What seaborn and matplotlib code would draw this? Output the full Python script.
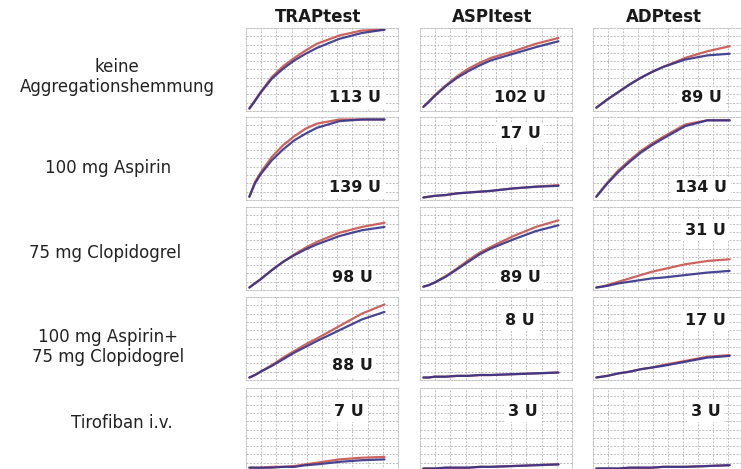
import numpy as np
import pandas as pd
import matplotlib
matplotlib.use("Agg")
import matplotlib.pyplot as plt
import seaborn as sns

# Multiplate aggregation curves: time (min) vs aggregation, two channels per test
TIME = [0, 0.25, 0.5, 1, 1.5, 2, 2.5, 3, 4, 5, 6]

TESTS = ["TRAPtest", "ASPItest", "ADPtest"]
CONDITIONS = [
    "keine\nAggregationshemmung",
    "100 mg Aspirin",
    "75 mg Clopidogrel",
    "100 mg Aspirin+\n75 mg Clopidogrel",
    "Tirofiban i.v.",
]

# area under the curve in U, [condition][test]
AUC_U = [
    [113, 102, 89],
    [139, 17, 134],
    [98, 89, 31],
    [88, 8, 17],
    [7, 3, 3],
]

# channel 1 (red) and channel 2 (blue) per condition and test
RED = [
    [[3, 13, 23, 41, 54, 64, 73, 81, 91, 97, 98],
     [5, 12, 19, 31, 42, 51, 58, 64, 72, 81, 88],
     [4, 9, 14, 23, 32, 40, 47, 53, 64, 72, 78]],
    [[4, 22, 33, 52, 66, 77, 86, 92, 97, 97, 97],
     [3, 4, 5, 6, 8, 9, 10, 11, 14, 16, 18],
     [4, 13, 21, 36, 48, 59, 68, 76, 91, 96, 96]],
    [[3, 8, 13, 24, 34, 43, 51, 58, 69, 76, 81],
     [4, 6, 9, 17, 26, 36, 45, 52, 65, 76, 84],
     [3, 4, 6, 10, 14, 18, 22, 25, 31, 35, 37]],
    [[3, 6, 10, 18, 27, 35, 43, 50, 65, 80, 91],
     [3, 3, 4, 4, 5, 5, 6, 6, 7, 8, 9],
     [3, 4, 5, 8, 10, 13, 15, 18, 23, 28, 30]],
    [[4, 4, 4, 5, 5, 6, 8, 10, 14, 16, 17],
     [3, 3, 3, 4, 4, 4, 5, 5, 6, 7, 8],
     [3, 3, 3, 3, 4, 4, 4, 5, 5, 6, 7]],
]
BLUE = [
    [[3, 12, 22, 39, 51, 61, 69, 76, 87, 94, 98],
     [5, 11, 18, 30, 40, 48, 55, 61, 69, 77, 84],
     [4, 9, 14, 23, 32, 40, 47, 53, 62, 67, 69]],
    [[4, 20, 31, 48, 61, 72, 80, 87, 95, 97, 97],
     [3, 4, 5, 6, 8, 9, 10, 11, 14, 16, 17],
     [4, 12, 20, 34, 46, 57, 66, 74, 89, 96, 96]],
    [[3, 8, 13, 24, 34, 42, 49, 55, 65, 72, 76],
     [4, 6, 9, 16, 25, 34, 43, 50, 61, 71, 78],
     [3, 4, 5, 8, 10, 12, 14, 15, 18, 21, 23]],
    [[3, 6, 10, 17, 25, 33, 40, 47, 60, 73, 82],
     [3, 3, 4, 4, 5, 5, 6, 6, 7, 8, 9],
     [3, 4, 5, 8, 10, 13, 15, 17, 22, 27, 29]],
    [[4, 4, 4, 4, 5, 5, 7, 8, 11, 13, 14],
     [3, 3, 3, 4, 4, 4, 5, 5, 6, 7, 8],
     [3, 3, 3, 3, 4, 4, 4, 5, 5, 6, 7]],
]

# label anchor inside each panel (axes fraction)
LABEL_POS = [
    [(0.72, 0.16), (0.66, 0.16), (0.72, 0.16)],
    [(0.72, 0.15), (0.66, 0.80), (0.72, 0.15)],
    [(0.70, 0.15), (0.66, 0.15), (0.75, 0.72)],
    [(0.70, 0.17), (0.66, 0.72), (0.75, 0.72)],
    [(0.68, 0.72), (0.68, 0.72), (0.75, 0.72)],
]

RED_C = "#c9524d"
BLUE_C = "#34338a"

sns.set_theme(style="white")
plt.rcParams["font.family"] = ["DejaVu Sans"]

W, H = 741, 469
fig = plt.figure(figsize=(W / 100, H / 100), dpi=100)
fig.patch.set_facecolor("white")

col_px = [(246, 152), (420, 152), (593, 150)]
row_top = [28, 117, 207, 297, 388]
row_h = 83

XLIM = (-0.15, 6.6)
YLIM = (0, 100)

for r in range(len(CONDITIONS)):
    for c in range(len(TESTS)):
        x0, w = col_px[c]
        ax = fig.add_axes([x0 / W, 1 - (row_top[r] + row_h) / H, w / W, row_h / H])
        df = pd.DataFrame({
            "t": TIME * 2,
            "agg": RED[r][c] + BLUE[r][c],
            "kanal": ["1"] * len(TIME) + ["2"] * len(TIME),
        })
        sns.lineplot(data=df, x="t", y="agg", hue="kanal",
                     palette={"1": RED_C, "2": BLUE_C}, ax=ax, legend=False,
                     linewidth=1.6, alpha=0.9)
        ax.set_xlim(*XLIM)
        ax.set_ylim(*YLIM)
        ax.set_xticks(np.linspace(XLIM[0], XLIM[1], 11))
        ax.set_yticks(np.linspace(YLIM[0], YLIM[1], 11))
        ax.tick_params(length=0, labelbottom=False, labelleft=False)
        ax.set_xlabel("")
        ax.set_ylabel("")
        ax.grid(True, color="#bdbdbd", linestyle=(0, (2, 1.5)), linewidth=0.7)
        for s in ax.spines.values():
            s.set_color("#c4c4c4")
            s.set_linestyle((0, (2, 1.5)))
            s.set_linewidth(0.7)
        lx, ly = LABEL_POS[r][c]
        ax.text(lx, ly, f"{AUC_U[r][c]} U", transform=ax.transAxes,
                ha="center", va="center", fontsize=11.5, fontweight="bold",
                color="#1a1a1a",
                bbox=dict(facecolor="white", edgecolor="none", pad=2.5))
        if r == 0:
            fig.text((x0 + w / 2 - 4) / W, 1 - 17 / H, TESTS[c],
                     ha="center", va="center", fontsize=12, fontweight="bold",
                     color="#1a1a1a")

# condition labels on the left
label_xy = [(117, 77), (108, 168), (105, 253), (108, 347), (122, 423)]
for text, (lx, ly) in zip(CONDITIONS, label_xy):
    fig.text(lx / W, 1 - ly / H, text, ha="center", va="center",
             fontsize=12, color="#222222", linespacing=1.15)

fig.savefig("out.png", dpi=100, facecolor="white")
